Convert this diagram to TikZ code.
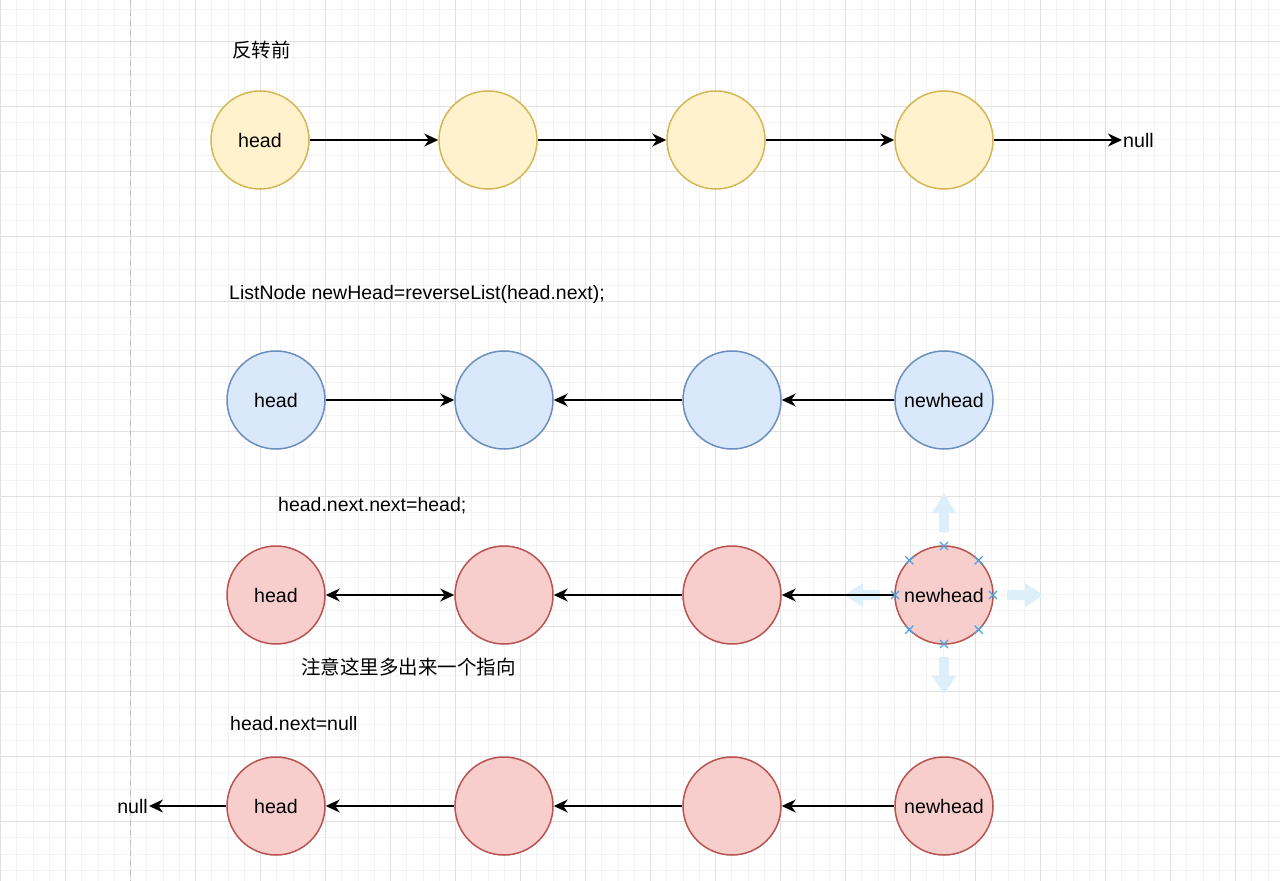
\documentclass[tikz,border=0pt]{standalone}
\usepackage{fontspec}
\setmainfont{Liberation Sans}
\newfontfamily\cjk{Noto Sans CJK SC}
\usetikzlibrary{arrows.meta,calc}
\definecolor{gridminor}{RGB}{243,243,243}
\definecolor{gridmajor}{RGB}{224,224,224}
\definecolor{yfill}{HTML}{FFF2CC}
\definecolor{ydraw}{HTML}{D6B656}
\definecolor{bfill}{HTML}{DAE8FC}
\definecolor{bdraw}{HTML}{6C8EBF}
\definecolor{rfill}{HTML}{F8CECC}
\definecolor{rdraw}{HTML}{B85450}
\definecolor{handle}{RGB}{222,239,252}
\definecolor{xmark}{RGB}{70,165,228}
\tikzset{
  lnode/.style={circle, minimum size=98pt, inner sep=0pt, line width=1.5pt, font=\fontsize{19.6}{22}\selectfont},
  ynode/.style={lnode, draw=ydraw, fill=yfill},
  bnode/.style={lnode, draw=bdraw, fill=bfill},
  rnode/.style={lnode, draw=rdraw, fill=rfill},
  arr/.style={line width=1.7pt, -{Stealth[length=14pt,width=13pt,inset=4.5pt]}},
  arrboth/.style={line width=1.7pt, {Stealth[length=14pt,width=13pt,inset=4.5pt]}-{Stealth[length=14pt,width=13pt,inset=4.5pt]}},
  lbl/.style={anchor=west, inner sep=0pt, font=\fontsize{19.5}{22}\selectfont},
  nulltxt/.style={inner sep=1pt, font=\fontsize{19.6}{22}\selectfont},
  xm/.style={draw=xmark, line width=1.3pt},
}
\begin{document}
\begin{tikzpicture}[x=1pt,y=-1pt]
\useasboundingbox (0,0) rectangle (1280,881);
\fill[white] (0,0) rectangle (1280,881);
% minor grid
\foreach \i in {0,...,79} {
  \draw[gridminor, line width=1pt] ({\i*16.25+0.5},0) -- ({\i*16.25+0.5},881);
}
\foreach \j in {0,...,56} {
  \draw[gridminor, line width=1pt] (0,{\j*16.25-23.3+16.25}) -- (1280,{\j*16.25-23.3+16.25});
}
% major grid
\foreach \i in {0,...,19} {
  \draw[gridmajor, line width=1pt] ({\i*65+0.5},0) -- ({\i*65+0.5},881);
}
\foreach \j in {0,...,14} {
  \draw[gridmajor, line width=1pt] (0,{\j*65+41.7}) -- (1280,{\j*65+41.7});
}
% page border dashed line
\draw[color={rgb,255:red,192;green,192;blue,192}, line width=1.5pt, dash pattern=on 6pt off 4pt] (130.5,0) -- (130.5,881);

% selection handles around newhead (row 3)
\fill[handle] (939,532) -- (939,513) -- (932,513) -- (944,493) -- (956,513) -- (949,513) -- (949,532) -- cycle;
\fill[handle] (939,657) -- (939,676) -- (932,676) -- (944,694) -- (956,676) -- (949,676) -- (949,657) -- cycle;
\fill[handle] (880,590) -- (863,590) -- (863,583) -- (845,595) -- (863,607) -- (863,600) -- (880,600) -- cycle;
\fill[handle] (1007,590) -- (1025,590) -- (1025,583) -- (1043,595) -- (1025,607) -- (1025,600) -- (1007,600) -- cycle;

% titles
\node[lbl] (t1) at (232,50) {\cjk 反转前};
\node[lbl] (t2) at (229,294) {ListNode newHead=reverseList(head.next);};
\node[lbl] (t3) at (278,506) {head.next.next=head;};
\node[lbl] (t4) at (301,667) {\cjk 注意这里多出来一个指向};
\node[lbl] (t5) at (230,724) {head.next=null};

% row 1
\node[ynode] (a1) at (260,140) {head};
\node[ynode] (a2) at (488,140) {};
\node[ynode] (a3) at (716,140) {};
\node[ynode] (a4) at (944,140) {};
\node[nulltxt, anchor=west] (an) at (1122,140) {null};
\draw[arr] (a1) -- (a2);
\draw[arr] (a2) -- (a3);
\draw[arr] (a3) -- (a4);
\draw[arr] (a4) -- (an);

% row 2
\node[bnode] (b1) at (276,400) {head};
\node[bnode] (b2) at (504,400) {};
\node[bnode] (b3) at (732,400) {};
\node[bnode] (b4) at (944,400) {newhead};
\draw[arr] (b1) -- (b2);
\draw[arr] (b3) -- (b2);
\draw[arr] (b4) -- (b3);

% row 3
\node[rnode] (c1) at (276,595) {head};
\node[rnode] (c2) at (504,595) {};
\node[rnode] (c3) at (732,595) {};
\node[rnode] (c4) at (944,595) {newhead};
\draw[arrboth] (c1) -- (c2);
\draw[arr] (c3) -- (c2);
\draw[arr] (c4) -- (c3);

% selection x marks
\foreach \a in {0,45,...,315} {
  \draw[xm] ($(c4.center)+(\a:49)+(-4,-4)$) -- ($(c4.center)+(\a:49)+(4,4)$);
  \draw[xm] ($(c4.center)+(\a:49)+(-4,4)$) -- ($(c4.center)+(\a:49)+(4,-4)$);
}

% row 4
\node[rnode] (d1) at (276,806) {head};
\node[rnode] (d2) at (504,806) {};
\node[rnode] (d3) at (732,806) {};
\node[rnode] (d4) at (944,806) {newhead};
\node[nulltxt, anchor=east] (dn) at (149,806) {null};
\draw[arr] (d1) -- (dn);
\draw[arr] (d2) -- (d1);
\draw[arr] (d3) -- (d2);
\draw[arr] (d4) -- (d3);
\end{tikzpicture}
\end{document}
